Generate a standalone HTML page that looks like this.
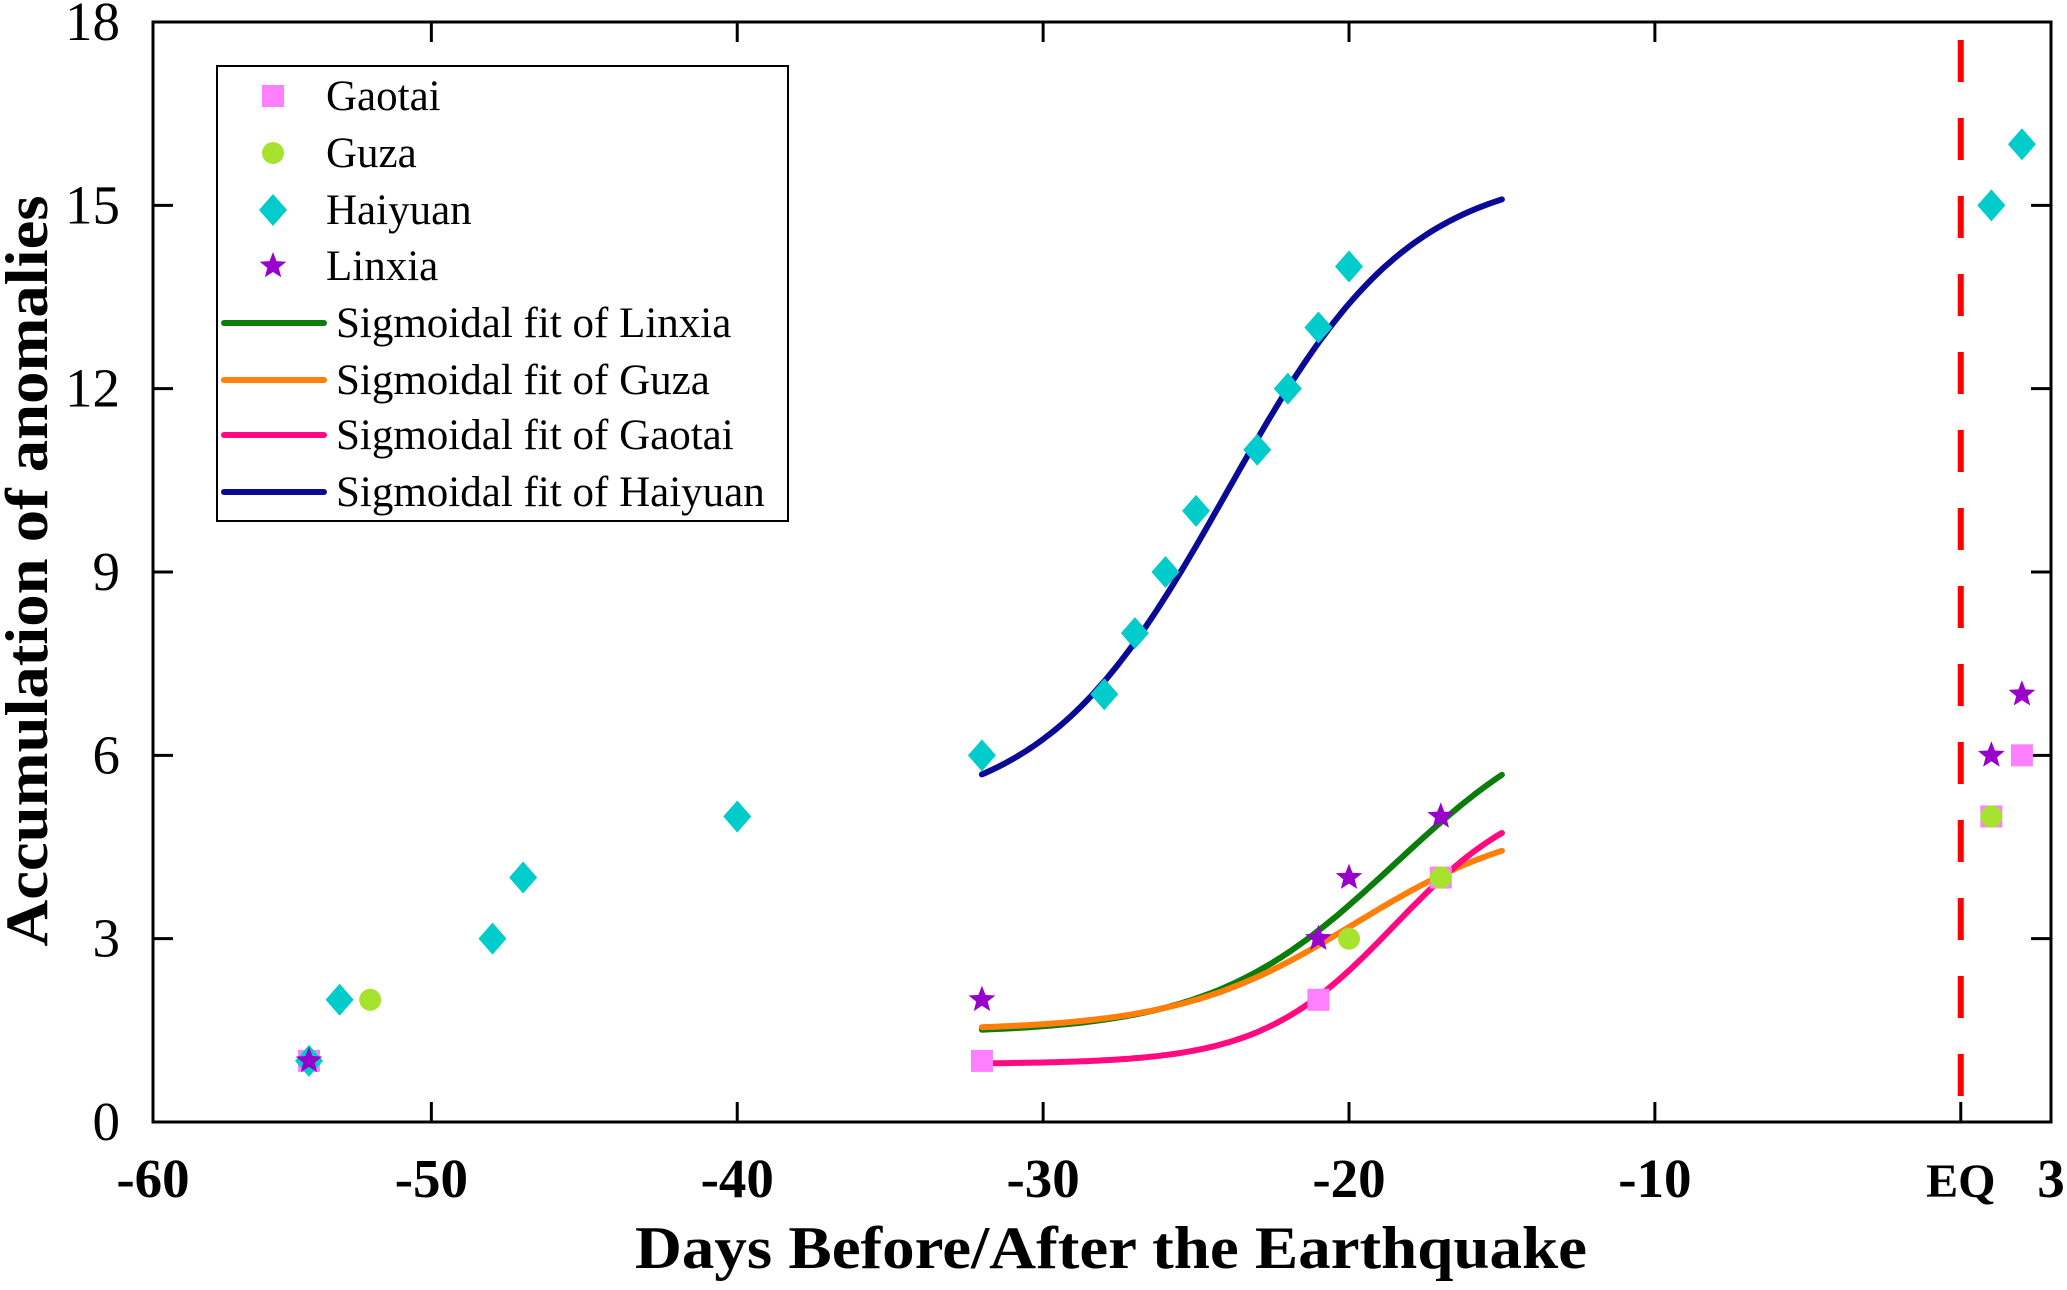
<!DOCTYPE html>
<html><head><meta charset="utf-8"><style>
html,body{margin:0;padding:0;background:#fff}
svg text{font-family:"Liberation Serif",serif}
</style></head><body>
<svg id="chart" width="2067" height="1285" viewBox="0 0 2067 1285" xmlns="http://www.w3.org/2000/svg"></svg>
<script>
const xTicks=[-50,-40,-30,-20,-10];
const xTickLabels=["-50","-40","-30","-20","-10"];
const yTicks=[0,3,6,9,12,15,18];
const yTickLabels=["0","3","6","9","12","15","18"];
const eqDay=0;
const haiyuanX=[-54,-53,-48,-47,-40,-32,-28,-27,-26,-25,-23,-22,-21,-20,1,2];
const haiyuanY=[1,2,3,4,5,6,7,8,9,10,11,12,13,14,15,16];
const gaotaiX=[-54,-32,-21,-17,1,2];
const gaotaiY=[1,1,2,4,5,6];
const guzaX=[-52,-20,-17,1];
const guzaY=[2,3,4,5];
const linxiaX=[-54,-32,-21,-20,-17,1,2];
const linxiaY=[1,2,3,4,5,6,7];
// Boltzmann fit params [A1, A2, x0, dx]
const fitLinxia=[1.45,7.0,-18.5,3.0];
const fitGuza=[1.5,5.0,-19.8,2.9];
const fitGaotai=[0.95,5.5,-18.5,2.2];
const fitHaiyuan=[5.0,15.6,-24,3.0];
const fitRange=[-32,-15];

const NS="http://www.w3.org/2000/svg";
const svg=document.getElementById('chart');
const L=153,R=2051,T=22,B=1122;
const DMIN=-59.1,DMAX=2.95;
const X=v=>L+(v-DMIN)/(DMAX-DMIN)*(R-L);
const Y=v=>B-(v/18)*(B-T);
function mk(tag,attrs,parent){const e=document.createElementNS(NS,tag);for(const k in attrs)e.setAttribute(k,attrs[k]);(parent||svg).appendChild(e);return e;}

// ticks
xTicks.forEach((t,i)=>{
  const g=mk('g',{});
  
  
  mk('line',{x1:X(t),x2:X(t),y1:B,y2:B-20,stroke:'#000','stroke-width':3},g);
  mk('line',{x1:X(t),x2:X(t),y1:T,y2:T+20,stroke:'#000','stroke-width':3},g);
  const tx=mk('text',{x:X(t),y:1197,'font-size':55,'font-weight':'bold','text-anchor':'middle'},g);
  tx.textContent=xTickLabels[i];
});
{
  const g=mk('g',{});
  
  
  const t0=mk('text',{x:L,y:1197,'font-size':55,'font-weight':'bold','text-anchor':'middle'},g);
  t0.textContent='-60';
  mk('line',{x1:X(eqDay),x2:X(eqDay),y1:B,y2:B-20,stroke:'#000','stroke-width':3},g);
  const tx=mk('text',{x:X(eqDay),y:1197,'font-size':48,'font-weight':'bold','text-anchor':'middle'},g);
  tx.textContent='EQ';
  const t3=mk('text',{x:R,y:1197,'font-size':55,'font-weight':'bold','text-anchor':'middle'},g);
  t3.textContent='3';
}
yTicks.forEach((t,i)=>{
  const g=mk('g',{});
  
  
  mk('line',{x1:L,x2:L+20,y1:Y(t),y2:Y(t),stroke:'#000','stroke-width':3},g);
  mk('line',{x1:R,x2:R-20,y1:Y(t),y2:Y(t),stroke:'#000','stroke-width':3},g);
  const tx=mk('text',{x:120,y:Y(t)+18,'font-size':55,'text-anchor':'end'},g);
  tx.textContent=yTickLabels[i];
});
const frame=mk('rect',{x:L,y:T,width:R-L,height:B-T,fill:'none',stroke:'#000','stroke-width':3});



// EQ line
const eq=mk('line',{x1:X(eqDay),x2:X(eqDay),y1:T+18,y2:B,stroke:'#ff0000','stroke-width':6,'stroke-dasharray':'42 36'});



// fits
function fitPath(p,color,name){
  let d='';
  for(let i=0;i<=120;i++){
    const x=fitRange[0]+(fitRange[1]-fitRange[0])*i/120;
    const y=p[1]+(p[0]-p[1])/(1+Math.exp((x-p[2])/p[3]));
    d+=(i?'L':'M')+X(x).toFixed(1)+','+Y(y).toFixed(1);
  }
  const e=mk('path',{d:d,fill:'none',stroke:color,'stroke-width':6,'stroke-linecap':'round'});
  
  
}
fitPath(fitLinxia,'#0a7d0a','fit-linxia');
fitPath(fitGuza,'#ff7f0a','fit-guza');
fitPath(fitGaotai,'#ff0a80','fit-gaotai');
fitPath(fitHaiyuan,'#0a0a96','fit-haiyuan');

// markers
function square(cx,cy,p){return mk('rect',{x:cx-11,y:cy-11,width:22,height:22,fill:'#ff80ff'},p);}
function circle(cx,cy,p){return mk('ellipse',{cx:cx,cy:cy,rx:11,ry:11,fill:'#a6e22e'},p);}
function diamond(cx,cy,p){return mk('polygon',{points:`${cx},${cy-16} ${cx+14},${cy} ${cx},${cy+16} ${cx-14},${cy}`,fill:'#00cccc'},p);}
function star(cx,cy,p){let pts=[];for(let i=0;i<10;i++){const r=i%2?6:14;const a=-Math.PI/2+i*Math.PI/5;pts.push((cx+r*Math.cos(a)).toFixed(1)+','+(cy+r*Math.sin(a)).toFixed(1));}return mk('polygon',{points:pts.join(' '),fill:'#9900cc'},p);}
function series(xs,ys,fn,name){
  const g=mk('g',{});
  
  
  xs.forEach((x,i)=>{const m=fn(X(x),Y(ys[i]),g);
    
    });
}
series(gaotaiX,gaotaiY,square,'gaotai-series');
series(guzaX,guzaY,circle,'guza-series');
series(haiyuanX,haiyuanY,diamond,'haiyuan-series');
series(linxiaX,linxiaY,star,'linxia-series');

// legend
const lg=mk('g',{});


mk('rect',{x:217,y:66,width:571,height:455,fill:'#fff',stroke:'#000','stroke-width':2},lg);
const legMarkers=[['Gaotai',square],['Guza',circle],['Haiyuan',diamond],['Linxia',star]];
const rowY=[96,153,210,266,323,380,435,492];
legMarkers.forEach((m,i)=>{
  const g=mk('g',{},lg);
  
  
  m[1](273,rowY[i],g);
  const t=mk('text',{x:326,y:rowY[i]+14,'font-size':43},g);t.textContent=m[0];
});
const legLines=[['Sigmoidal fit of Linxia','#0a7d0a'],['Sigmoidal fit of Guza','#ff7f0a'],['Sigmoidal fit of Gaotai','#ff0a80'],['Sigmoidal fit of Haiyuan','#0a0a96']];
legLines.forEach((m,i)=>{
  const y=rowY[i+4];
  const g=mk('g',{},lg);
  
  
  mk('line',{x1:224,x2:324,y1:y,y2:y,stroke:m[1],'stroke-width':6,'stroke-linecap':'round'},g);
  const t=mk('text',{x:336,y:y+14,'font-size':43},g);t.textContent=m[0];
});

// axis titles
const xt=mk('text',{x:1111,y:1268,'font-size':60,'font-weight':'bold','text-anchor':'middle',textLength:952,lengthAdjust:'spacingAndGlyphs'});
xt.textContent='Days Before/After the Earthquake';


const yt=mk('text',{x:0,y:0,'font-size':60,'font-weight':'bold','text-anchor':'middle',textLength:751,lengthAdjust:'spacingAndGlyphs',transform:'translate(47,571) rotate(-90)'});
yt.textContent='Accumulation of anomalies';


</script>
</body></html>
